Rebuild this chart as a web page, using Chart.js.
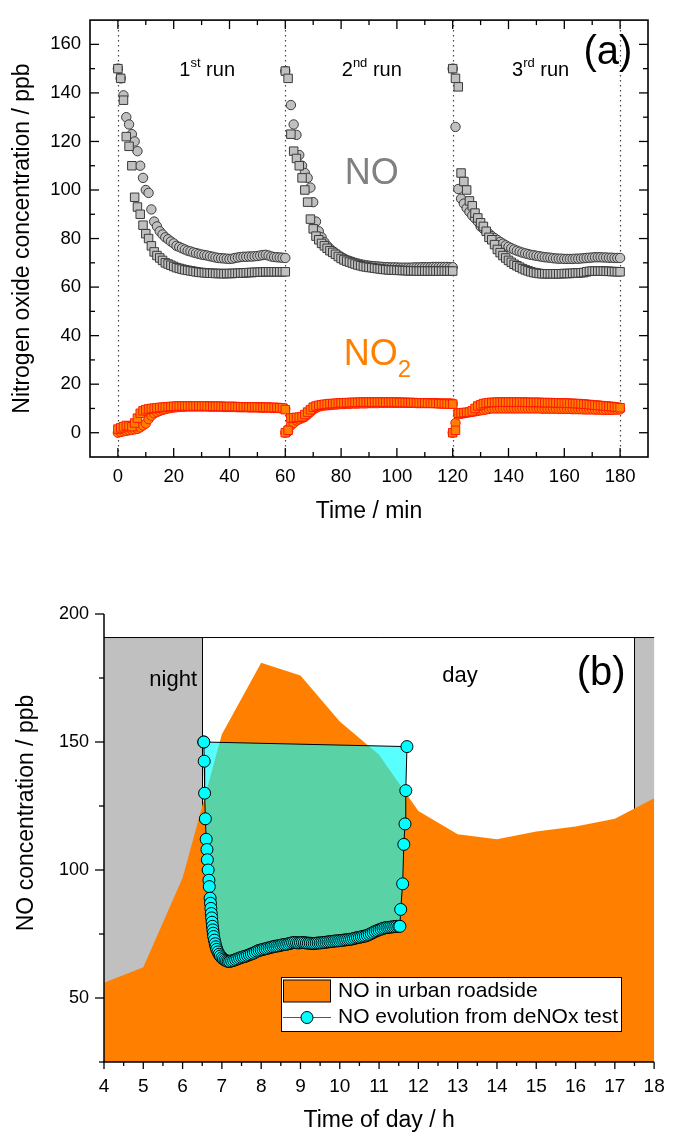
<!DOCTYPE html>
<html>
<head>
<meta charset="utf-8">
<script src="https://cdn.jsdelivr.net/npm/chart.js@4.4.1/dist/chart.umd.min.js"></script>
<style>
  body { margin: 0; background: #fff; }
  #wrap { position: relative; width: 678px; height: 1144px; }
  canvas { position: absolute; left: 0; }
  #chartA { top: 0; }
  #chartB { top: 572px; }
</style>
</head>
<body>
<div id="wrap">
  <canvas id="chartA" width="678" height="545"></canvas>
  <canvas id="chartB" width="678" height="572"></canvas>
</div>
<script>
var FONT = "'Liberation Sans', Arial, sans-serif";

// ---- panel (a): deNOx test, three 60 min runs ----
var runStarts = [0, 60, 120];
var runBoundaries = [0, 60, 120, 180];
var runMinutes = [0, 1, 2, 3, 4, 5, 6, 7, 8, 9, 10, 11, 12, 13, 14, 15, 16, 17, 18, 19,
    20, 21, 22, 23, 24, 25, 26, 27, 28, 29, 30, 31, 32, 33, 34, 35, 36, 37, 38, 39,
    40, 41, 42, 43, 44, 45, 46, 47, 48, 49, 50, 51, 52, 53, 54, 55, 56, 57, 58, 59, 60];

var noSquaresRun1 = [150, 146, 137, 122, 118, 110, 97, 93, 90, 85.5,
    82, 80, 77, 74.5, 73, 72, 71, 70, 69.5, 69,
    68.5, 68, 67.7, 67.4, 67.1, 66.9, 66.7, 66.5, 66.3, 66.1,
    66, 65.9, 65.8, 65.7, 65.7, 65.6, 65.6, 65.6, 65.5, 65.6,
    65.6, 65.6, 65.7, 65.7, 65.8, 65.8, 65.9, 66, 66, 66.1,
    66.1, 66.2, 66.2, 66.3, 66.3, 66.3, 66.3, 66.3, 66.3, 66.3, 66.3];
var noCirclesRun1 = [150, 146, 139, 130, 127, 123, 120, 116, 110, 105,
    100, 98.8, 92, 87, 85, 83, 81.7, 80.5, 79.7, 78.8,
    78, 77, 76.5, 76, 75.5, 75, 74.7, 74.3, 74, 73.7,
    73.4, 73.2, 73, 72.7, 72.5, 72.2, 72, 71.9, 71.8, 71.7,
    71.6, 71.7, 72, 72.2, 72.4, 72.5, 72.5, 72.6, 72.6, 72.7,
    72.8, 73, 73.2, 73.3, 73, 72.6, 72.4, 72.3, 72.2, 72.1, 72];
var noSquaresRun2 = [149, 146, 123, 116, 113, 110, 105, 100, 95, 88,
    84, 81, 79.5, 78, 77, 76, 75, 74.3, 73.5, 72.6,
    71.8, 71.2, 70.7, 70.3, 69.9, 69.5, 69.1, 68.8, 68.5, 68.3,
    68.1, 68, 67.8, 67.6, 67.5, 67.3, 67.2, 67.1, 67, 67,
    66.9, 66.9, 66.8, 66.8, 66.7, 66.7, 66.7, 66.6, 66.6, 66.6,
    66.6, 66.6, 66.6, 66.6, 66.6, 66.6, 66.6, 66.6, 66.6, 66.6, 66.6];
var noCirclesRun2 = [149, null, 135, 127, 122.7, 114.4, 110, 107, 105, 101,
    95, 87, 83, 80.5, 78.5, 77, 75.8, 74.8, 73.9, 73.1,
    72.4, 71.8, 71.2, 70.8, 70.4, 70, 69.7, 69.4, 69.2, 69,
    68.8, 68.7, 68.6, 68.5, 68.4, 68.3, 68.2, 68.2, 68.1, 68.1,
    68.1, 68, 68, 68, 68, 68, 68.1, 68.1, 68.1, 68.2,
    68.2, 68.2, 68.2, 68.3, 68.3, 68.3, 68.3, 68.3, 68.3, 68.2, 68.2];
var noSquaresRun3 = [150, 146, 142.5, 107, 103.5, 100, 95.5, 93.5, 90.5, 88.5,
    86.5, 85, 83, 80.5, 79.5, 77.5, 75.5, 74.2, 73, 72,
    71, 70.2, 69.4, 68.8, 68.2, 67.6, 67.1, 66.7, 66.3, 66,
    65.8, 65.6, 65.5, 65.5, 65.5, 65.5, 65.5, 65.5, 65.5, 65.5,
    65.6, 65.6, 65.6, 65.7, 65.8, 65.8, 65.9, 66, 66.3, 66.5,
    66.6, 66.6, 66.6, 66.6, 66.6, 66.5, 66.5, 66.4, 66.4, 66.3, 66.3];
var noCirclesRun3 = [150, 126, 100.4, 96.4, 94.4, 92.5, 91, 89.5, 88.3, 87,
    85, 84, 83, 82, 81, 80.2, 79.4, 78.6, 77.9, 77.2,
    76.6, 76, 75.5, 75, 74.6, 74.2, 73.9, 73.6, 73.3, 73.1,
    72.9, 72.7, 72.5, 72.3, 72.2, 72.1, 71.9, 71.8, 71.7, 71.7,
    71.6, 71.6, 71.6, 71.6, 71.7, 71.7, 71.8, 71.9, 72, 72.1,
    72.2, 72.3, 72.3, 72.3, 72.2, 72.2, 72.1, 72.1, 72, 72, 72];

var no2SquaresRun1 = [1.5, 2, 2.5, 3, 2.8, 2.5, 4, 6, 8, 9,
    9.5, 9.8, 10, 10.1, 10.2, 10.4, 10.5, 10.6, 10.7, 10.8,
    10.9, 10.9, 11, 11, 11, 11, 11, 11, 11, 11,
    11, 11, 11, 10.9, 10.9, 10.9, 10.9, 10.9, 10.8, 10.8,
    10.8, 10.8, 10.8, 10.7, 10.7, 10.7, 10.7, 10.6, 10.6, 10.6,
    10.6, 10.5, 10.5, 10.5, 10.5, 10.4, 10.4, 10.4, 10.3, 10.2, 9.5];
var no2CirclesRun1 = [0, 0.3, 0.6, 0.8, 1, 1.2, 1.4, 1.6, 2.2, 3,
    3.8, 5.6, 7, 8, 8.5, 9, 9.4, 9.7, 10, 10.2,
    10.4, 10.5, 10.6, 10.7, 10.7, 10.8, 10.8, 10.8, 10.8, 10.8,
    10.8, 10.8, 10.8, 10.7, 10.7, 10.7, 10.7, 10.7, 10.6, 10.6,
    10.6, 10.6, 10.6, 10.5, 10.5, 10.5, 10.5, 10.4, 10.4, 10.4,
    10.4, 10.3, 10.3, 10.3, 10.3, 10.2, 10.2, 10.2, 10.1, 10, 9.8];
var no2SquaresRun2 = [0, 1, 6, 6.2, 6.3, 6.4, 6.6, 7.5, 8.5, 9.5,
    10.5, 11, 11.3, 11.5, 11.7, 11.8, 12, 12, 12.1, 12.2,
    12.3, 12.3, 12.4, 12.4, 12.5, 12.5, 12.5, 12.6, 12.6, 12.6,
    12.6, 12.6, 12.6, 12.6, 12.6, 12.6, 12.6, 12.6, 12.6, 12.6,
    12.6, 12.5, 12.5, 12.5, 12.4, 12.4, 12.4, 12.3, 12.3, 12.3,
    12.3, 12.2, 12.2, 12.1, 12.1, 12, 12, 11.9, 11.9, 11.8, 11.8];
var no2CirclesRun2 = [0, 0.5, 3, 4, 5, 5.5, 6, 6.5, 7.5, 8.5,
    9.5, 10.2, 10.8, 11, 11.2, 11.3, 11.4, 11.5, 11.6, 11.7,
    11.8, 11.8, 11.9, 11.9, 12, 12, 12, 12.1, 12.1, 12.1,
    12.2, 12.2, 12.2, 12.2, 12.3, 12.3, 12.3, 12.3, 12.3, 12.3,
    12.3, 12.3, 12.3, 12.3, 12.3, 12.3, 12.3, 12.2, 12.2, 12.2,
    12.2, 12.2, 12.2, 12.2, 12.2, 12.1, 12.1, 12.1, 12.1, 12.1, 12];
var no2SquaresRun3 = [0, 1, 8, 8.2, 8.3, 8.4, 8.5, 9, 10, 11,
    11.5, 12, 12.2, 12.4, 12.5, 12.5, 12.6, 12.6, 12.6, 12.6,
    12.6, 12.6, 12.6, 12.6, 12.6, 12.6, 12.6, 12.5, 12.5, 12.5,
    12.5, 12.5, 12.4, 12.4, 12.4, 12.4, 12.3, 12.3, 12.3, 12.2,
    12.2, 12.2, 12.1, 12.1, 12, 12, 11.9, 11.8, 11.7, 11.6,
    11.5, 11.4, 11.3, 11.2, 11.1, 11, 10.9, 10.8, 10.6, 10.5, 10.3];
var no2CirclesRun3 = [0, 4, 7.5, 7.8, 8, 8.2, 8.4, 8.6, 8.8, 9,
    9.2, 9.4, 9.6, 9.8, 10, 10, 10, 10, 10, 10,
    10, 10, 10, 10, 10, 10, 10, 10, 10, 10,
    10, 10, 9.9, 9.9, 9.9, 9.9, 9.9, 9.9, 9.8, 9.8,
    9.8, 9.8, 9.8, 9.7, 9.7, 9.7, 9.7, 9.6, 9.6, 9.6,
    9.6, 9.5, 9.5, 9.5, 9.4, 9.4, 9.4, 9.4, 9.5, 9.5, 9.6];

var timeTicks = [0, 20, 40, 60, 80, 100, 120, 140, 160, 180];
var timeMinorTicks = [10, 30, 50, 70, 90, 110, 130, 150, 170];
var concTicks = [0, 20, 40, 60, 80, 100, 120, 140, 160];
var concMinorTicks = [10, 30, 50, 70, 90, 110, 130, 150];
var runLabels = [['1', 'st'], ['2', 'nd'], ['3', 'rd']];
var runLabelTimes = [32, 91, 151.5];

// ---- panel (b): NO at an urban roadside vs. the deNOx test ----
var urbanHours = [4, 5, 6, 7, 8, 9, 10, 11, 12, 13, 14, 15, 16, 17, 18];
var urbanNO = [56, 62, 97, 153, 181, 176, 158, 145, 123, 114, 112, 115, 117, 120, 128];
var periodEdges = [4, 6.5, 17.5, 18];   // night | day | night
var periodTop = 191;
var deNOxTest = [
    [6.54, 150], [6.55, 142.5], [6.56, 130], [6.58, 120], [6.60, 112], [6.62, 108], [6.63, 104], [6.65, 100], [6.67, 96], [6.68, 93.5],
    [6.70, 89], [6.71, 87], [6.72, 85], [6.73, 83], [6.74, 81.3], [6.75, 79.6], [6.76, 78], [6.77, 76.6], [6.78, 75.3], [6.79, 74],
    [6.81, 72.6], [6.83, 71.2], [6.85, 70], [6.87, 69], [6.90, 68], [6.93, 67.1], [6.96, 66.4], [7.00, 65.7], [7.04, 65.2], [7.08, 64.8],
    [7.12, 64.5], [7.16, 64.3], [7.20, 64.3], [7.25, 64.5],
    [7.30, 64.7], [7.35, 65.0], [7.40, 65.3], [7.45, 65.6], [7.50, 65.9], [7.55, 66.1], [7.60, 66.3], [7.65, 66.6], [7.70, 66.9], [7.75, 67.2],
    [7.80, 67.5], [7.85, 67.9], [7.90, 68.3], [7.95, 68.6], [8.00, 68.8], [8.05, 69.0], [8.10, 69.2], [8.15, 69.4], [8.20, 69.6], [8.25, 69.8],
    [8.30, 70.0], [8.35, 70.2], [8.40, 70.3], [8.45, 70.4], [8.50, 70.6], [8.55, 70.8], [8.60, 70.9], [8.65, 71.0], [8.70, 71.2], [8.75, 71.4],
    [8.80, 71.6], [8.85, 71.7], [8.90, 71.6], [8.95, 71.5], [9.00, 71.6], [9.05, 71.7], [9.10, 71.6], [9.15, 71.5], [9.20, 71.4], [9.25, 71.4],
    [9.30, 71.3], [9.35, 71.3], [9.40, 71.4], [9.45, 71.5], [9.50, 71.5], [9.55, 71.6], [9.60, 71.7], [9.65, 71.8], [9.70, 71.9], [9.75, 72.0],
    [9.80, 72.1], [9.85, 72.2], [9.90, 72.3], [9.95, 72.3], [10.00, 72.4], [10.05, 72.5], [10.10, 72.6], [10.15, 72.7], [10.20, 72.8], [10.25, 72.9],
    [10.30, 73.0], [10.35, 73.2], [10.40, 73.4], [10.45, 73.6], [10.50, 73.7], [10.55, 73.9], [10.60, 74.1], [10.65, 74.2], [10.70, 74.5], [10.75, 74.8],
    [10.80, 75.2], [10.85, 75.6], [10.90, 76.0], [10.95, 76.3], [11.00, 76.6], [11.05, 76.9], [11.10, 77.2], [11.15, 77.4], [11.20, 77.5], [11.25, 77.6],
    [11.30, 77.7], [11.35, 77.8], [11.40, 77.9], [11.45, 78.0], [11.50, 78.0],
    [11.53, 78.0], [11.55, 84.6], [11.60, 94.6], [11.63, 110], [11.66, 118], [11.68, 131], [11.71, 148.2], [6.54, 150]
];
var hourTicks = [4, 5, 6, 7, 8, 9, 10, 11, 12, 13, 14, 15, 16, 17, 18];
var hourMinorTicks = [4.5, 5.5, 6.5, 7.5, 8.5, 9.5, 10.5, 11.5, 12.5, 13.5, 14.5, 15.5, 16.5, 17.5];
var concTicksB = [50, 100, 150, 200];
var concMinorTicksB = [25, 75, 125, 175];

Chart.defaults.font.family = FONT;
Chart.defaults.color = '#000';

function runPoints(runs) {
    var pts = [];
    runs.forEach(function (vals, r) {
        vals.forEach(function (v, i) {
            pts.push({ x: runStarts[r] + runMinutes[i], y: v });
        });
    });
    return pts;
}

function fixedTicks(values) {
    return function (scale) {
        scale.ticks = values.map(function (v) { return { value: v }; });
    };
}

function tickMarks(ctx, scale, values, fixed, len, vertical) {
    values.forEach(function (v) {
        var p = scale.getPixelForValue(v);
        ctx.beginPath();
        if (vertical) {
            ctx.moveTo(p, fixed);
            ctx.lineTo(p, fixed + len);
        } else {
            ctx.moveTo(fixed, p);
            ctx.lineTo(fixed + len, p);
        }
        ctx.stroke();
    });
}

function drawRich(ctx, parts, x, y, align) {
    var total = 0;
    parts.forEach(function (p) {
        ctx.font = p[1] + 'px ' + FONT;
        total += ctx.measureText(p[0]).width;
    });
    var cx = align === 'center' ? x - total / 2 : x;
    ctx.textAlign = 'left';
    ctx.textBaseline = 'alphabetic';
    parts.forEach(function (p) {
        ctx.font = p[1] + 'px ' + FONT;
        ctx.fillText(p[0], cx, y + (p[2] || 0));
        cx += ctx.measureText(p[0]).width;
    });
}

var panelAExtras = {
    id: 'panelAExtras',
    beforeDatasetsDraw: function (chart) {
        var ctx = chart.ctx, a = chart.chartArea, xs = chart.scales.x;
        ctx.save();
        ctx.strokeStyle = '#444';
        ctx.lineWidth = 1.2;
        ctx.setLineDash([1.5, 3.5]);
        runBoundaries.forEach(function (t) {
            var px = Math.round(xs.getPixelForValue(t)) + 0.5;
            ctx.beginPath();
            ctx.moveTo(px, a.top);
            ctx.lineTo(px, a.bottom);
            ctx.stroke();
        });
        ctx.restore();
    },
    afterDatasetsDraw: function (chart) {
        var ctx = chart.ctx, a = chart.chartArea, xs = chart.scales.x, ys = chart.scales.y;
        ctx.save();
        ctx.strokeStyle = '#000';
        ctx.lineWidth = 1.6;
        ctx.strokeRect(a.left, a.top, a.right - a.left, a.bottom - a.top);
        ctx.lineWidth = 1.3;
        tickMarks(ctx, xs, timeTicks, a.bottom, -9, true);
        tickMarks(ctx, xs, timeMinorTicks, a.bottom, -5, true);
        tickMarks(ctx, xs, timeTicks, a.top, 9, true);
        tickMarks(ctx, xs, timeMinorTicks, a.top, 5, true);
        tickMarks(ctx, ys, concTicks, a.left, 9, false);
        tickMarks(ctx, ys, concMinorTicks, a.left, 5, false);
        tickMarks(ctx, ys, concTicks, a.right, -9, false);
        tickMarks(ctx, ys, concMinorTicks, a.right, -5, false);

        ctx.fillStyle = '#000';
        runLabels.forEach(function (lab, i) {
            drawRich(ctx, [[lab[0], 20], [lab[1], 13, -9], [' run', 20]],
                xs.getPixelForValue(runLabelTimes[i]), ys.getPixelForValue(147), 'center');
        });
        ctx.fillStyle = '#808080';
        drawRich(ctx, [['NO', 36]], xs.getPixelForValue(91), ys.getPixelForValue(102.6), 'center');
        ctx.fillStyle = '#ff8000';
        drawRich(ctx, [['NO', 36], ['2', 24, 12]], xs.getPixelForValue(93), ys.getPixelForValue(28.1), 'center');
        ctx.fillStyle = '#000';
        drawRich(ctx, [['(a)', 40]], xs.getPixelForValue(175.6), ys.getPixelForValue(151.9), 'center');
        ctx.restore();
    }
};

var panelBExtras = {
    id: 'panelBExtras',
    beforeDatasetsDraw: function (chart) {
        var ctx = chart.ctx, a = chart.chartArea, xs = chart.scales.x, ys = chart.scales.y;
        var top = ys.getPixelForValue(periodTop);
        var e = periodEdges.map(function (h) { return xs.getPixelForValue(h); });
        ctx.save();
        ctx.fillStyle = '#c0c0c0';
        ctx.fillRect(e[0], top, e[1] - e[0], a.bottom - top);
        ctx.fillRect(e[2], top, e[3] - e[2], a.bottom - top);
        ctx.strokeStyle = '#000';
        ctx.lineWidth = 1;
        ctx.beginPath();
        ctx.moveTo(e[0], top + 0.5);
        ctx.lineTo(e[3], top + 0.5);
        ctx.moveTo(Math.round(e[1]) + 0.5, top);
        ctx.lineTo(Math.round(e[1]) + 0.5, a.bottom);
        ctx.moveTo(Math.round(e[2]) + 0.5, top);
        ctx.lineTo(Math.round(e[2]) + 0.5, a.bottom);
        ctx.stroke();
        ctx.restore();
    },
    afterDatasetsDraw: function (chart) {
        var ctx = chart.ctx, a = chart.chartArea, xs = chart.scales.x, ys = chart.scales.y;
        ctx.save();
        ctx.strokeStyle = '#000';
        ctx.lineWidth = 1.5;
        ctx.beginPath();
        ctx.moveTo(a.left, a.top);
        ctx.lineTo(a.left, a.bottom);
        ctx.lineTo(a.right, a.bottom);
        ctx.stroke();
        ctx.lineWidth = 1.3;
        tickMarks(ctx, xs, hourTicks, a.bottom, 7, true);
        tickMarks(ctx, xs, hourMinorTicks, a.bottom, 4, true);
        tickMarks(ctx, ys, concTicksB, a.left, -9, false);
        tickMarks(ctx, ys, concMinorTicksB, a.left, -5, false);

        ctx.fillStyle = '#000';
        drawRich(ctx, [['night', 22]], xs.getPixelForValue(5.76), ys.getPixelForValue(171.8), 'center');
        drawRich(ctx, [['day', 22]], xs.getPixelForValue(13.06), ys.getPixelForValue(173.5), 'center');
        drawRich(ctx, [['(b)', 40]], xs.getPixelForValue(16.65), ys.getPixelForValue(172.4), 'center');

        // y axis title
        ctx.save();
        ctx.translate(27, a.top + 199);
        ctx.rotate(-Math.PI / 2);
        ctx.font = '23px ' + FONT;
        ctx.textAlign = 'center';
        ctx.textBaseline = 'middle';
        ctx.fillText('NO concentration / ppb', 0, 0);
        ctx.restore();

        // legend
        var lx = 281, ly = a.top + 363, lw = 340, lh = 54;
        var ds = chart.data.datasets;
        ctx.fillStyle = '#fff';
        ctx.fillRect(lx, ly, lw, lh);
        ctx.lineWidth = 1;
        ctx.strokeStyle = '#000';
        ctx.strokeRect(lx + 0.5, ly + 0.5, lw, lh);
        ctx.fillStyle = ds[1].backgroundColor;
        ctx.fillRect(lx + 2.5, ly + 3, 47, 22);
        ctx.strokeRect(lx + 2.5, ly + 3, 47, 22);
        ctx.strokeStyle = '#555';
        ctx.beginPath();
        ctx.moveTo(lx + 2, ly + 40.5);
        ctx.lineTo(lx + 50, ly + 40.5);
        ctx.stroke();
        ctx.beginPath();
        ctx.arc(lx + 26, ly + 40.5, 6, 0, Math.PI * 2);
        ctx.fillStyle = ds[0].pointBackgroundColor;
        ctx.fill();
        ctx.strokeStyle = '#000';
        ctx.stroke();
        ctx.fillStyle = '#000';
        ctx.font = '21px ' + FONT;
        ctx.textAlign = 'left';
        ctx.textBaseline = 'middle';
        ctx.fillText(ds[1].label, lx + 57, ly + 14);
        ctx.fillText(ds[0].label, lx + 57, ly + 40.5);
        ctx.restore();
    }
};

new Chart('chartA', {
    type: 'scatter',
    data: {
        datasets: [{
            label: 'NO (squares)',
            data: runPoints([noSquaresRun1, noSquaresRun2, noSquaresRun3]),
            pointStyle: 'rect',
            pointRadius: 6,
            backgroundColor: '#c0c0c0',
            borderColor: '#3a3a3a',
            borderWidth: 1
        }, {
            label: 'NO (circles)',
            data: runPoints([noCirclesRun1, noCirclesRun2, noCirclesRun3]),
            pointStyle: 'circle',
            pointRadius: 4.7,
            backgroundColor: '#c0c0c0',
            borderColor: '#3a3a3a',
            borderWidth: 1
        }, {
            label: 'NO2 (squares)',
            data: runPoints([no2SquaresRun1, no2SquaresRun2, no2SquaresRun3]),
            pointStyle: 'rect',
            pointRadius: 6,
            backgroundColor: '#ff8000',
            borderColor: '#ff1a00',
            borderWidth: 1
        }, {
            label: 'NO2 (circles)',
            data: runPoints([no2CirclesRun1, no2CirclesRun2, no2CirclesRun3]),
            pointStyle: 'circle',
            pointRadius: 4.7,
            backgroundColor: '#ff8000',
            borderColor: '#ff1a00',
            borderWidth: 1
        }]
    },
    options: {
        responsive: false,
        animation: false,
        events: [],
        layout: { padding: { top: 8, right: 30, left: 0, bottom: 0 } },
        plugins: { legend: { display: false }, tooltip: { enabled: false } },
        scales: {
            x: {
                type: 'linear', min: -10, max: 190,
                afterBuildTicks: fixedTicks(timeTicks),
                afterFit: function (s) { s.height = 88; },
                grid: { display: false, drawTicks: false },
                border: { display: false },
                ticks: { font: { size: 18.5 }, padding: 8.6, maxRotation: 0, autoSkip: false },
                title: { display: true, text: 'Time / min', font: { size: 23 }, padding: { top: 0, bottom: 20 } }
            },
            y: {
                type: 'linear', min: -10, max: 170,
                afterBuildTicks: fixedTicks(concTicks),
                afterFit: function (s) { s.width = 90; },
                grid: { display: false, drawTicks: false },
                border: { display: false },
                ticks: { font: { size: 18.5 }, padding: 9, autoSkip: false },
                title: { display: true, text: 'Nitrogen oxide concentration / ppb', font: { size: 23 }, padding: { top: 9, bottom: 0 } }
            }
        }
    },
    plugins: [panelAExtras]
});

new Chart('chartB', {
    type: 'scatter',
    data: {
        datasets: [{
            label: 'NO evolution from deNOx test',
            data: deNOxTest.map(function (p) { return { x: p[0], y: p[1] }; }),
            showLine: true,
            tension: 0,
            borderColor: '#000',
            borderWidth: 1,
            backgroundColor: 'rgba(0, 255, 255, 0.65)',
            fill: 'shape',
            pointStyle: 'circle',
            pointRadius: 6,
            pointBackgroundColor: '#00ffff',
            pointBorderColor: '#000',
            pointBorderWidth: 1
        }, {
            label: 'NO in urban roadside',
            data: urbanHours.map(function (h, i) { return { x: h, y: urbanNO[i] }; }),
            showLine: true,
            tension: 0,
            borderWidth: 0,
            borderColor: '#ff8000',
            backgroundColor: '#ff8000',
            fill: 'start',
            pointRadius: 0
        }]
    },
    options: {
        responsive: false,
        animation: false,
        events: [],
        layout: { padding: { top: 42, right: 14, left: 0, bottom: 0 } },
        plugins: { legend: { display: false }, tooltip: { enabled: false } },
        scales: {
            x: {
                type: 'linear', min: 4, max: 18,
                afterBuildTicks: fixedTicks(hourTicks),
                afterFit: function (s) { s.height = 82; },
                grid: { display: false, drawTicks: false },
                border: { display: false },
                ticks: { font: { size: 19 }, padding: 13.3, maxRotation: 0, autoSkip: false },
                title: { display: true, text: 'Time of day / h', font: { size: 23 }, padding: { top: 0, bottom: 9.5 } }
            },
            y: {
                type: 'linear', min: 25, max: 200,
                afterBuildTicks: fixedTicks(concTicksB),
                afterFit: function (s) { s.width = 104; },
                grid: { display: false, drawTicks: false },
                border: { display: false },
                ticks: { font: { size: 18 }, padding: 15, autoSkip: false },
                title: { display: false }
            }
        }
    },
    plugins: [panelBExtras]
});
</script>
</body>
</html>
